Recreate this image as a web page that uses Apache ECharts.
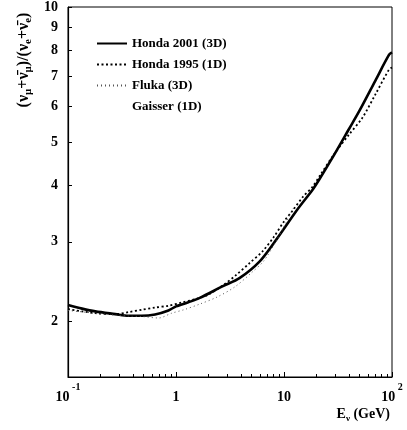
<!DOCTYPE html>
<html>
<head>
<meta charset="utf-8">
<script src="https://cdn.jsdelivr.net/npm/echarts@6/dist/echarts.min.js"></script>
<style>html,body{margin:0;padding:0;background:#fff}#c{width:407px;height:430px}</style>
</head>
<body>
<div id="c"></div>
<script>
// ---- data ----
const honda2001E = [0.1, 0.135, 0.179, 0.274, 0.363, 0.482, 0.64, 0.851, 1.0, 1.13, 1.3, 1.66, 2.72, 3.87, 5.93, 8.45, 13.4, 18.4, 21.2, 29.2, 40, 49.7, 70, 94, 100];
const honda2001R = [2.17, 2.13, 2.10, 2.071, 2.053, 2.053, 2.067, 2.11, 2.155, 2.175, 2.20, 2.25, 2.39, 2.49, 2.71, 3.03, 3.55, 3.92, 4.13, 4.69, 5.35, 5.86, 6.85, 7.83, 7.92];

const honda1995E = [0.1, 0.135, 0.179, 0.238, 0.274, 0.363, 0.482, 0.64, 0.851, 1.13, 1.5, 2.0, 2.72, 3.6, 4.8, 6.35, 8.0, 10, 12, 15, 18.4, 22, 30, 40, 53, 70, 94, 100];
const honda1995R = [2.125, 2.10, 2.081, 2.071, 2.071, 2.092, 2.117, 2.142, 2.161, 2.198, 2.235, 2.29, 2.40, 2.53, 2.69, 2.86, 3.07, 3.33, 3.52, 3.78, 3.98, 4.25, 4.75, 5.2, 5.66, 6.38, 7.26, 7.33];

const flukaE = [0.1, 0.135, 0.179, 0.274, 0.363, 0.482, 0.69, 0.91, 1.2, 1.66, 2.4, 3.5, 5.0, 6.5, 8.5, 10.5, 12.5];
const flukaR = [2.11, 2.095, 2.08, 2.06, 2.05, 2.045, 2.03, 2.08, 2.12, 2.18, 2.26, 2.38, 2.56, 2.72, 3.02, 3.32, 3.6];

const seriesNames = ['Honda 2001 (3D)', 'Honda 1995 (1D)', 'Fluka (3D)', 'Gaisser (1D)'];
const yTickValues = [2, 3, 4, 5, 6, 7, 8, 9, 10];
const xMinorTicks = [0.2,0.3,0.4,0.5,0.6,0.7,0.8,0.9,2,3,4,5,6,7,8,9,20,30,40,50,60,70,80,90];

// ---- chart ----
const FONT = 'Liberation Serif';
const pairs = (xs, ys) => xs.map((x, i) => [x, ys[i]]);
const log10 = Math.log10;
const NOSYM = {color: 'rgba(0,0,0,0)', opacity: 0};

const chart = echarts.init(document.getElementById('c'), null, {renderer: 'canvas'});
chart.setOption({
  animation: false,
  backgroundColor: '#fff',
  grid: {left: 68, right: 15, top: 7, bottom: 53, show: true, borderColor: '#000', borderWidth: 1, containLabel: false, outerBoundsMode: 'none'},
  legend: {
    data: seriesNames,
    orient: 'vertical',
    left: 91, top: 32,
    itemWidth: 30, itemHeight: 14, itemGap: 8,
    itemStyle: {opacity: 0},
    textStyle: {fontFamily: FONT, fontWeight: 'bold', fontSize: 13, color: '#000'}
  },
  xAxis: [
    {
      type: 'log', logBase: 10, min: 0.1, max: 100,
      axisLine: {show: true, lineStyle: {color: '#000', width: 1.2}},
      axisTick: {show: true, inside: true, length: 5, lineStyle: {color: '#000'}},
      splitLine: {show: false},
      axisLabel: {
        margin: 5,
        formatter: function (v) {
          const e = Math.round(log10(v));
          if (e === 0) return '{b|1}';
          if (e === 1) return '{b|10}';
          return '{b|10}{sup| ' + e + '}';
        },
        rich: {
          b: {fontFamily: FONT, fontWeight: 'bold', fontSize: 14, color: '#000', lineHeight: 22, verticalAlign: 'bottom'},
          sup: {fontFamily: FONT, fontWeight: 'bold', fontSize: 10, color: '#000', lineHeight: 22, verticalAlign: 'top'}
        }
      }
    },
    {
      type: 'value', min: -1, max: 2, position: 'bottom',
      axisLine: {show: false},
      axisTick: {show: true, inside: true, length: 3, customValues: xMinorTicks.map(log10), lineStyle: {color: '#000'}},
      axisLabel: {show: false},
      splitLine: {show: false}
    }
  ],
  yAxis: [
    {
      type: 'log', logBase: 10, min: 1.5, max: 10, position: 'left',
      axisLine: {show: false}, axisTick: {show: false}, axisLabel: {show: false}, splitLine: {show: false}
    },
    {
      type: 'value', min: log10(1.5), max: 1, position: 'left',
      axisLine: {show: true, lineStyle: {color: '#000', width: 1.2}},
      axisTick: {show: true, inside: true, length: 4, customValues: yTickValues.map(log10), lineStyle: {color: '#000'}},
      axisLabel: {
        show: true, margin: 10,
        customValues: yTickValues.map(log10),
        formatter: v => String(Math.round(Math.pow(10, v))),
        fontFamily: FONT, fontWeight: 'bold', fontSize: 14, color: '#000'
      },
      splitLine: {show: false}
    }
  ],
  series: [
    {
      name: seriesNames[0], type: 'line', xAxisIndex: 0, yAxisIndex: 0,
      data: pairs(honda2001E, honda2001R), symbol: 'none', smooth: 0.3,
      itemStyle: NOSYM,
      lineStyle: {color: '#000', width: 2.6, type: 'solid'}
    },
    {
      name: seriesNames[1], type: 'line', xAxisIndex: 0, yAxisIndex: 0,
      data: pairs(honda1995E, honda1995R), symbol: 'none', smooth: 0.3,
      itemStyle: NOSYM,
      lineStyle: {color: '#000', width: 1.8, type: [2, 2.5]}
    },
    {
      name: seriesNames[2], type: 'line', xAxisIndex: 0, yAxisIndex: 0,
      data: pairs(flukaE, flukaR), symbol: 'none', smooth: 0.3,
      itemStyle: NOSYM,
      lineStyle: {color: '#555', width: 1, type: [1, 3]}
    },
    {
      name: seriesNames[3], type: 'line', xAxisIndex: 0, yAxisIndex: 0,
      data: [], symbol: 'none',
      itemStyle: NOSYM,
      lineStyle: {color: 'rgba(0,0,0,0)', width: 1}
    }
  ],
  graphic: [
    {
      type: 'text', x: 24, y: 60, rotation: Math.PI / 2,
      style: {
        text: '{n|(ν}{s|μ}{n|+ν̄}{s|μ}{n|)/(ν}{s|e}{n|+ν̄}{s|e}{n|)}',
        align: 'center', verticalAlign: 'middle',
        rich: {
          n: {fontFamily: FONT, fontWeight: 'bold', fontSize: 16, fill: '#000', lineHeight: 20, verticalAlign: 'middle'},
          s: {fontFamily: FONT, fontWeight: 'bold', fontSize: 11, fill: '#000', lineHeight: 20, verticalAlign: 'bottom'}
        }
      }
    },
    {
      type: 'text', x: 390, y: 414,
      style: {
        text: '{n|E}{s|ν}{n| (GeV)}',
        align: 'right', verticalAlign: 'middle',
        rich: {
          n: {fontFamily: FONT, fontWeight: 'bold', fontSize: 14, fill: '#000', lineHeight: 18, verticalAlign: 'middle'},
          s: {fontFamily: FONT, fontWeight: 'bold', fontSize: 9, fill: '#000', lineHeight: 18, verticalAlign: 'bottom'}
        }
      }
    }
  ]
});
</script>
</body>
</html>
